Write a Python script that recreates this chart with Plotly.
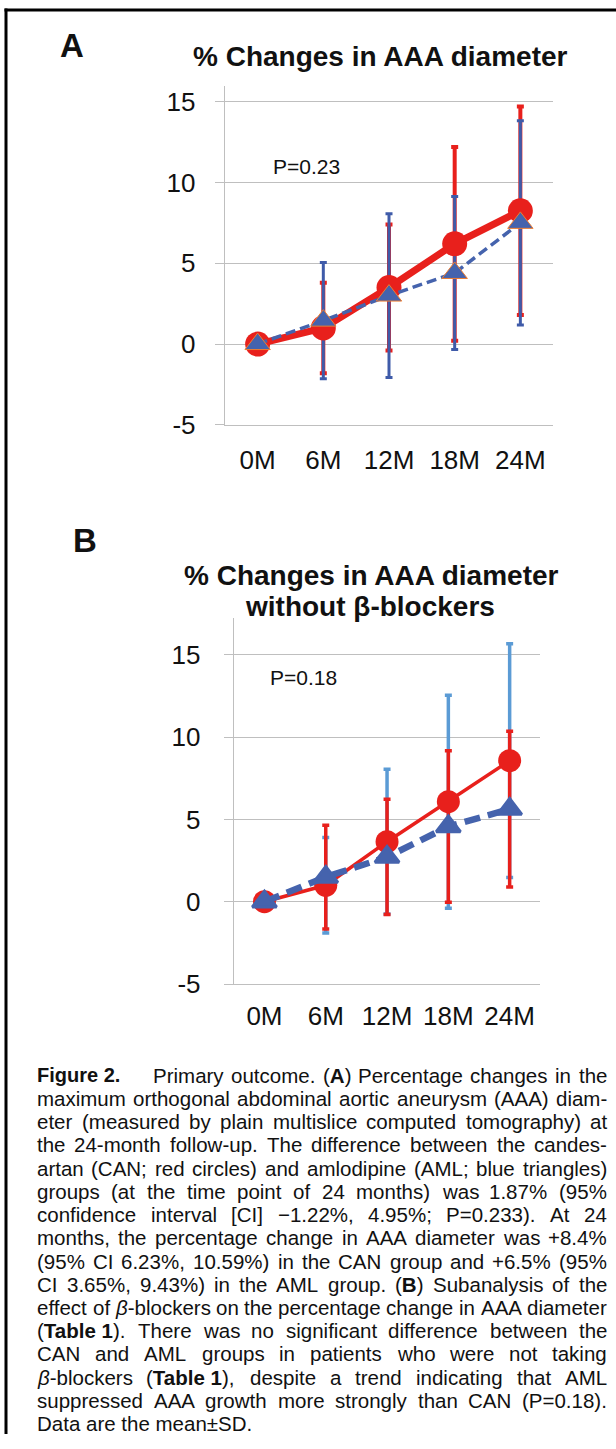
import re
import plotly.graph_objects as go

W, H = 616, 1449

# ---------------- data ----------------
months = ["0M", "6M", "12M", "18M", "24M"]

# Panel A: all patients
a_can_mean = [0.0, 1.0, 3.5, 6.2, 8.25]
a_can_sd = [0.0, 2.8, 3.9, 6.0, 6.45]
a_aml_mean = [0.0, 1.45, 3.0, 4.4, 7.5]
a_aml_sd = [0.0, 3.6, 5.07, 4.73, 6.32]

# Panel B: without beta-blockers
b_can_mean = [0.0, 1.0, 3.65, 6.08, 8.57]
b_can_sd = [0.0, 2.9, 4.4, 6.47, 7.1]
b_aml_mean = [0.0, 1.5, 2.72, 4.57, 5.63]
b_aml_sd = [0.0, 3.15, 3.5, 4.6, 4.73]

y_ticks = [-5, 0, 5, 10, 15]
y_tick_text = ["-5", "0", "5", "10", "15"]
p_text_a = "P=0.23"
p_text_b = "P=0.18"

NB = "\u00a0"
caption_lines = [
    "Primary outcome. (<b>A</b>) Percentage changes in the",
    "maximum orthogonal abdominal aortic aneurysm (AAA) diam-",
    "eter (measured by plain multislice computed tomography) at",
    "the 24-month follow-up. The difference between the candes-",
    "artan (CAN; red circles) and amlodipine (AML; blue triangles)",
    "groups (at the time point of 24 months) was 1.87% (95%",
    "confidence interval [CI] \u22121.22%, 4.95%; P=0.233). At 24",
    "months, the percentage change in AAA diameter was +8.4%",
    "(95% CI 6.23%, 10.59%) in the CAN group and +6.5% (95%",
    "CI 3.65%, 9.43%) in the AML group. (<b>B</b>) Subanalysis of the",
    "effect of <i>\u03b2</i>-blockers on the percentage change in AAA diameter",
    "(<b>Table" + NB + "1</b>). There was no significant difference between the",
    "CAN and AML groups in patients who were not taking",
    "<i>\u03b2</i>-blockers (<b>Table" + NB + "1</b>), despite a trend indicating that AML",
    "suppressed AAA growth more strongly than CAN (P=0.18).",
    "Data are the mean\u00b1SD.",
]

# ---------------- styles ----------------
RED = "#e8201c"
BLUE = "#4563ad"
BLUE_ERR = "#3f5ba9"
LIGHT_BLUE = "#5b9bd5"
ORANGE = "#ed7d31"
GRID = "#bfbfbf"
FONT = "Liberation Sans, Arial, sans-serif"

# Arial / Liberation Sans advance widths (1/1000 em) used to justify caption
REG = {" ": 278, NB: 278, "!": 278, "%": 889, "(": 333, ")": 333, "+": 584, ",": 278,
       "-": 333, ".": 278, "/": 278, ":": 278, ";": 278, "=": 584, "[": 278, "]": 278,
       "A": 667, "B": 667, "C": 722, "D": 722, "E": 667, "F": 611, "G": 778, "H": 722,
       "I": 278, "J": 500, "K": 667, "L": 556, "M": 833, "N": 722, "O": 778, "P": 667,
       "Q": 778, "R": 722, "S": 667, "T": 611, "U": 722, "V": 667, "W": 944, "X": 667,
       "Y": 667, "Z": 611, "a": 556, "b": 556, "c": 500, "d": 556, "e": 556, "f": 278,
       "g": 556, "h": 556, "i": 222, "j": 222, "k": 500, "l": 222, "m": 833, "n": 556,
       "o": 556, "p": 556, "q": 556, "r": 333, "s": 500, "t": 278, "u": 556, "v": 500,
       "w": 722, "x": 500, "y": 500, "z": 500, "\u00b1": 584, "\u2212": 584, "\u03b2": 570}
for d in "0123456789":
    REG[d] = 556
BOLD = dict(REG)
BOLD.update({"A": 722, "B": 722, "T": 611, "b": 611, "l": 278, "a": 556, "e": 556})


def word_width(word, size):
    bold = False
    total = 0
    for tok in re.split(r"(<[^>]+>)", word):
        if tok.startswith("<"):
            if tok == "<b>":
                bold = True
            elif tok == "</b>":
                bold = False
            continue
        for ch in tok:
            total += (BOLD if bold else REG).get(ch, 556)
    return total * size / 1000.0


def px_x(x):
    return x / W


def px_y(y):
    return 1 - y / H


fig = go.Figure()


def err_trace(xa, ya, mean, sd, color, thick, capw):
    return go.Scatter(
        x=months, y=mean, mode="markers", xaxis=xa, yaxis=ya,
        marker=dict(size=1, color="rgba(0,0,0,0)"),
        error_y=dict(type="data", array=sd, visible=True, color=color,
                     thickness=thick, width=capw),
        showlegend=False, hoverinfo="skip",
    )


# Panel A
fig.add_trace(err_trace("x", "y", a_can_mean, a_can_sd, RED, 4, 3.5))
fig.add_trace(err_trace("x", "y", a_aml_mean, a_aml_sd, BLUE_ERR, 3, 3.5))
fig.add_trace(go.Scatter(
    x=months, y=a_can_mean, mode="lines+markers", xaxis="x", yaxis="y",
    line=dict(color=RED, width=7),
    marker=dict(symbol="circle", size=25, color=RED),
    showlegend=False))
fig.add_trace(go.Scatter(
    x=months, y=a_aml_mean, mode="lines+markers", xaxis="x", yaxis="y",
    line=dict(color=BLUE, width=3.5, dash="10px,5px"),
    marker=dict(symbol="triangle-up", size=22, color=BLUE,
                line=dict(color=ORANGE, width=1)),
    showlegend=False))

# Panel B (error-bar colours as in the original figure)
fig.add_trace(err_trace("x2", "y2", b_can_mean, b_can_sd, LIGHT_BLUE, 3.5, 3.5))
fig.add_trace(err_trace("x2", "y2", b_aml_mean, b_aml_sd, RED, 3.5, 3.5))
fig.add_trace(go.Scatter(
    x=months, y=b_can_mean, mode="lines+markers", xaxis="x2", yaxis="y2",
    line=dict(color=RED, width=3.5),
    marker=dict(symbol="circle", size=23, color=RED),
    showlegend=False))
fig.add_trace(go.Scatter(
    x=months, y=b_aml_mean, mode="lines+markers", xaxis="x2", yaxis="y2",
    line=dict(color=BLUE, width=6.5, dash="16px,8px"),
    marker=dict(symbol="triangle-up", size=21, color=BLUE,
                line=dict(color=BLUE, width=3)),
    showlegend=False))


def xaxis_cfg(x0, x1, anchor, standoff):
    return dict(domain=[px_x(x0), px_x(x1)], range=[-0.5, 4.5], anchor=anchor,
                showgrid=False, zeroline=False, showline=True, linecolor=GRID,
                linewidth=1, ticks="", tickfont=dict(family=FONT, size=26, color="#111"),
                ticklabelstandoff=standoff, fixedrange=True)


def yaxis_cfg(ytop_px, ybot_px, rng, anchor, standoff):
    return dict(domain=[px_y(ybot_px), px_y(ytop_px)], range=rng, anchor=anchor,
                tickvals=y_ticks, ticktext=y_tick_text, showgrid=True, gridcolor=GRID,
                gridwidth=1.2, zeroline=False, showline=True, linecolor=GRID,
                linewidth=1.2, ticks="outside", ticklen=9, tickcolor=GRID, tickwidth=1.2,
                tickfont=dict(family=FONT, size=26, color="#111"),
                ticklabelstandoff=standoff, fixedrange=True)


fig.update_layout(
    width=W, height=H, margin=dict(l=0, r=0, t=0, b=0),
    paper_bgcolor="white", plot_bgcolor="white",
    xaxis=xaxis_cfg(224.8, 553.2, "y", 12),
    yaxis=yaxis_cfg(86.4, 429.3, [-5, 16], "x", 14),
    xaxis2=xaxis_cfg(233.8, 540.3, "y2", 9),
    yaxis2=yaxis_cfg(624, 994.3, [-5, 17.27], "x2", 18),
)

ann = []


def add_text(text, x, y, size, bold=False, xanchor="center", family=FONT):
    ann.append(dict(text=("<b>%s</b>" % text) if bold else text,
                    x=px_x(x), y=px_y(y), xref="paper", yref="paper",
                    xanchor=xanchor, yanchor="middle", showarrow=False,
                    align="left", font=dict(family=family, size=size, color="#111")))


add_text("A", 72, 46, 33, bold=True)
add_text("% Changes in AAA diameter", 380, 57, 28, bold=True)
add_text(p_text_a, 306, 168, 21)

add_text("B", 85, 546, 33, bold=True)
add_text("% Changes in AAA diameter", 371, 582, 28, bold=True)
add_text("without \u03b2-blockers", 370, 613, 28, bold=True)
add_text(p_text_b, 303, 685, 21)

# caption (justified line by line)
CAP_SIZE = 20.5
cap_y0, cap_dy = 1086.5, 23.47
cap_left, cap_right, cap_first = 35, 605, 151
add_text("Figure 2.", cap_left, cap_y0, 20, bold=True, xanchor="left")
n_lines = len(caption_lines)
for i, line in enumerate(caption_lines):
    y = cap_y0 + i * cap_dy
    x0 = cap_first if i == 0 else cap_left
    if i == n_lines - 1:
        add_text(line, x0, y, CAP_SIZE, xanchor="left")
        continue
    words = line.split(" ")
    widths = [word_width(w, CAP_SIZE) for w in words]
    gap = (cap_right - x0 - sum(widths)) / (len(words) - 1)
    gap = max(gap, 0.2 * CAP_SIZE)
    x = x0
    for w, wd in zip(words, widths):
        add_text(w, x, y, CAP_SIZE, xanchor="left")
        x += wd + gap

fig.update_layout(annotations=ann)

# frame lines
fig.add_shape(type="line", xref="paper", yref="paper",
              x0=px_x(4.5), x1=1.0, y0=px_y(10), y1=px_y(10),
              line=dict(color="black", width=3))
fig.add_shape(type="line", xref="paper", yref="paper",
              x0=px_x(6), x1=px_x(6), y0=px_y(8.5), y1=0.0,
              line=dict(color="black", width=3))

fig.write_html("out.html")
